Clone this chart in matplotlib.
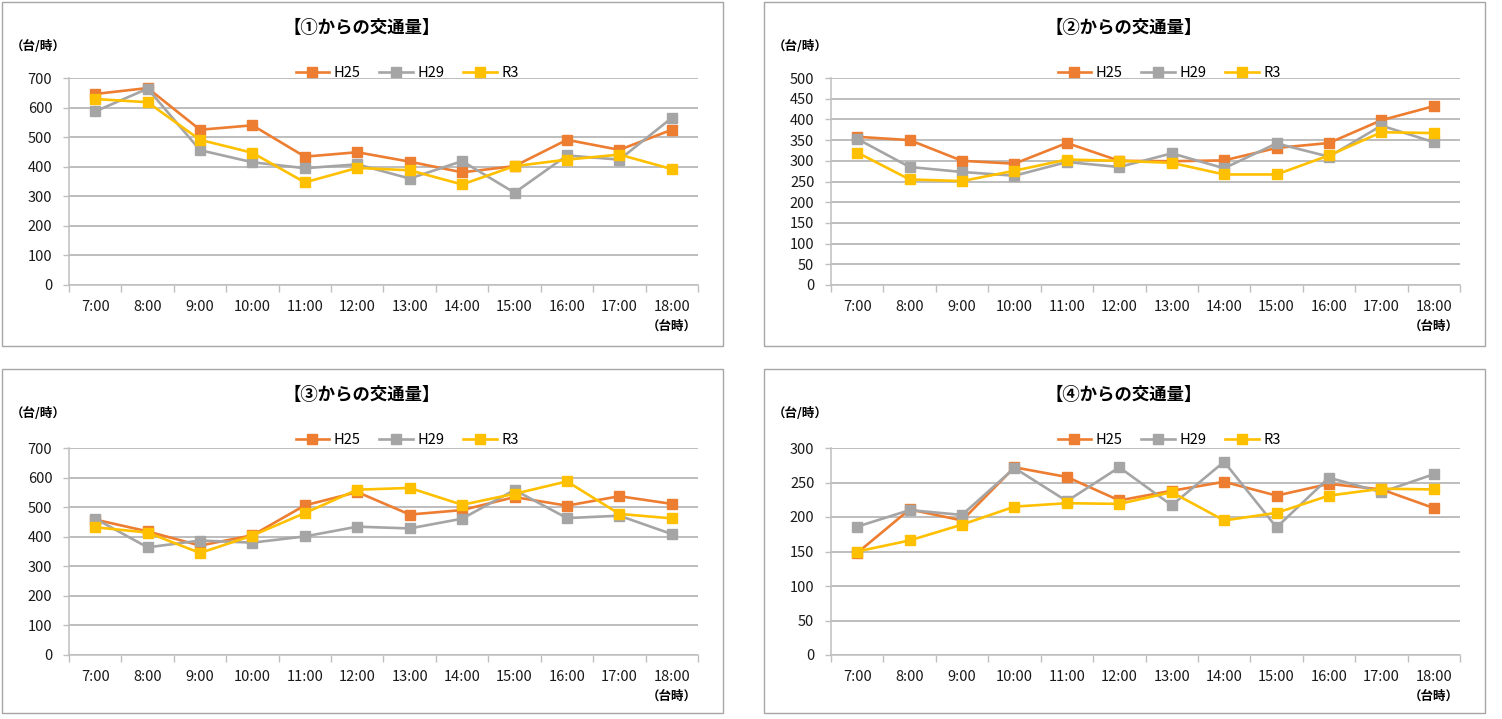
import matplotlib.pyplot as plt
from matplotlib.patches import Rectangle

plt.rcParams['font.family'] = ['Noto Sans CJK JP', 'DejaVu Sans']

hours = ['7:00', '8:00', '9:00', '10:00', '11:00', '12:00',
         '13:00', '14:00', '15:00', '16:00', '17:00', '18:00']
series_names = ['H25', 'H29', 'R3']
colors = ['#ED7D31', '#A5A5A5', '#FFC000']

# 【①からの交通量】
p1_h25 = [646, 666, 525, 540, 434, 449, 417, 381, 402, 491, 457, 525]
p1_h29 = [587, 664, 456, 415, 395, 408, 360, 419, 312, 438, 424, 565]
p1_r3 = [629, 618, 491, 447, 347, 396, 388, 340, 402, 424, 441, 392]

# 【②からの交通量】
p2_h25 = [358, 350, 300, 293, 343, 300, 299, 301, 331, 343, 398, 432]
p2_h29 = [353, 285, 273, 264, 297, 285, 318, 282, 342, 310, 385, 345]
p2_r3 = [320, 255, 251, 276, 303, 300, 295, 267, 267, 313, 369, 367]

# 【③からの交通量】
p3_h25 = [458, 418, 370, 405, 506, 551, 475, 490, 534, 505, 537, 511]
p3_h29 = [461, 364, 387, 380, 401, 434, 428, 461, 558, 463, 471, 409]
p3_r3 = [432, 414, 345, 404, 480, 559, 565, 508, 545, 587, 477, 462]

# 【④からの交通量】
p4_h25 = [148, 211, 195, 272, 258, 224, 238, 251, 231, 248, 240, 213]
p4_h29 = [186, 210, 203, 271, 223, 272, 217, 280, 185, 257, 236, 262]
p4_r3 = [150, 166, 189, 215, 220, 219, 236, 195, 206, 231, 241, 240]

titles = ['【①からの交通量】', '【②からの交通量】', '【③からの交通量】', '【④からの交通量】']
panel_data = [(p1_h25, p1_h29, p1_r3), (p2_h25, p2_h29, p2_r3),
              (p3_h25, p3_h29, p3_r3), (p4_h25, p4_h29, p4_r3)]
y_max = [700, 500, 700, 300]
y_step = [100, 50, 100, 50]

W, H = 1502, 719
fig = plt.figure(figsize=(W / 100, H / 100), dpi=100)

# (box left, box top, axes top) in pixels
layout = [(2, 2, 78), (764, 2, 78), (2, 369, 448), (764, 369, 448)]


def px(x, y):
    return x / W, 1 - y / H


grid_col = '#ABABAB'

for i, (bx, by, at) in enumerate(layout):
    # chart border
    x0, y0 = px(bx, by + 344)
    fig.patches.append(Rectangle((x0, y0), 721 / W, 344 / H, transform=fig.transFigure,
                                 fill=False, edgecolor='#A6A6A6', linewidth=1.0))

    left = bx + 67
    ax = fig.add_axes([left / W, 1 - (at + 207) / H, 629 / W, 207 / H])
    xs = list(range(len(hours)))
    for vals, name, c in zip(panel_data[i], series_names, colors):
        ax.plot(xs, vals, color=c, lw=1.9, marker='s', ms=7, label=name)

    ax.set_xlim(-0.5, len(hours) - 0.5)
    ax.set_ylim(0, y_max[i])
    ax.set_yticks(range(0, y_max[i] + 1, y_step[i]))
    ax.yaxis.grid(True, color=grid_col, lw=1.1)
    ax.set_axisbelow(True)
    for s in ['top', 'right']:
        ax.spines[s].set_visible(False)
    for s in ['left', 'bottom']:
        ax.spines[s].set_color('#BFBFBF')
        ax.spines[s].set_linewidth(1.1)

    ax.set_xticks(xs)
    ax.set_xticklabels(hours)
    ax.set_xticks([k - 0.5 for k in range(len(hours) + 1)], minor=True)
    ax.tick_params(axis='x', which='major', length=0, pad=11, labelsize=10.5, colors='#1a1a1a')
    ax.tick_params(axis='x', which='minor', length=5, width=1.0, color='#BFBFBF')
    ax.tick_params(axis='y', length=4, width=1.0, color='#BFBFBF', labelsize=10.5,
                   labelcolor='#1a1a1a', pad=8)

    cx = bx + 360
    tx, ty = px(cx, by + 26)
    fig.text(tx, ty, titles[i], ha='center', va='center', fontsize=12.5, fontweight='bold')
    ux, uy = px(bx + 36, by + 45)
    fig.text(ux, uy, '（台/時）', ha='center', va='center', fontsize=9, fontweight='bold')
    ax.text(len(hours) - 1, -0.2, '（台時）', transform=ax.get_xaxis_transform(),
            ha='center', va='center', fontsize=9, fontweight='bold')

    lx, ly = px(bx + 405, by + 71)
    fig.legend(*ax.get_legend_handles_labels(), loc='center', bbox_to_anchor=(lx, ly),
               ncol=3, frameon=False, fontsize=10.5, handlelength=2.3, columnspacing=1.3,
               handletextpad=0.3, borderaxespad=0)

fig.savefig('out.png', dpi=100)
